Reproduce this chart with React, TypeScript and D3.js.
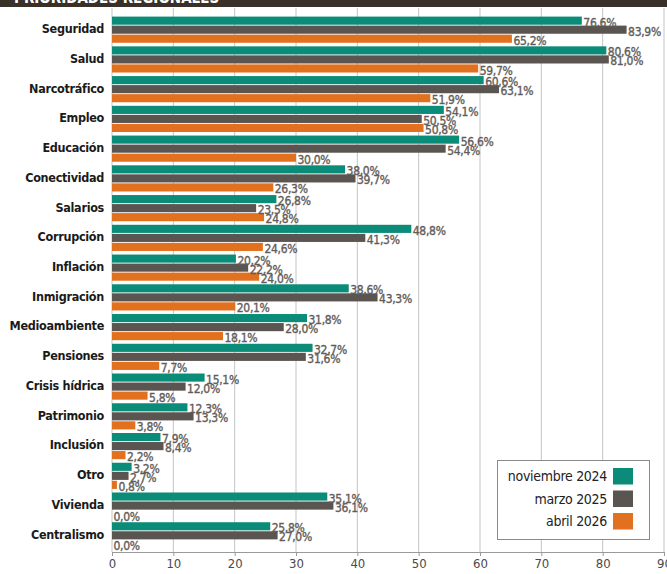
import { useEffect, useRef } from 'react';
import * as d3 from 'd3';

const categories = [
  'Seguridad', 'Salud', 'Narcotráfico', 'Empleo', 'Educación', 'Conectividad',
  'Salarios', 'Corrupción', 'Inflación', 'Inmigración', 'Medioambiente', 'Pensiones',
  'Crisis hídrica', 'Patrimonio', 'Inclusión', 'Otro', 'Vivienda', 'Centralismo',
];

const seriesNames = ['noviembre 2024', 'marzo 2025', 'abril 2026'];

const nov2024 = [76.6, 80.6, 60.6, 54.1, 56.6, 38.0, 26.8, 48.8, 20.2, 38.6, 31.8, 32.7, 15.1, 12.3, 7.9, 3.2, 35.1, 25.8];
const mar2025 = [83.9, 81.0, 63.1, 50.5, 54.4, 39.7, 23.5, 41.3, 22.2, 43.3, 28.0, 31.6, 12.0, 13.3, 8.4, 2.7, 36.1, 27.0];
const abr2026 = [65.2, 59.7, 51.9, 50.8, 30.0, 26.3, 24.8, 24.6, 24.0, 20.1, 18.1, 7.7, 5.8, 3.8, 2.2, 0.8, 0.0, 0.0];

const xTicks = [0, 10, 20, 30, 40, 50, 60, 70, 80, 90];

const colors = ['#0b8c79', '#5b5552', '#e2711f'];

const FONT = "'DejaVu Sans Condensed', 'Liberation Sans Narrow', 'Roboto', sans-serif";

export default function App() {
  const svgRef = useRef<SVGSVGElement | null>(null);

  useEffect(() => {
    if (!svgRef.current) return;
    document.body.style.margin = '0';

    const width = 667;
    const height = 574;
    const left = 112;
    const right = 664;
    const axisY = 552;

    const svg = d3.select(svgRef.current).attr('width', width).attr('height', height);
    svg.selectAll('*').remove();
    svg.style('font-family', FONT).style('background', '#fff').style('display', 'block');

    const x = d3.scaleLinear().domain([0, 90]).range([left, right]);
    const y0 = d3.scaleBand<string>().domain(categories).range([16, 549]).paddingInner(0.12).paddingOuter(0.02);
    const y1 = d3.scaleBand<number>().domain([0, 1, 2]).range([0, y0.bandwidth()]).paddingInner(0.1);

    // header band (title mostly cropped at the top)
    svg.append('rect').attr('x', 0).attr('y', 0).attr('width', width).attr('height', 7).attr('fill', '#3a302a');
    svg
      .append('text')
      .attr('x', 14)
      .attr('y', 3)
      .attr('fill', '#fff')
      .attr('font-weight', 'bold')
      .attr('font-size', 15)
      .text('PRIORIDADES REGIONALES');

    // gridlines
    svg
      .append('g')
      .selectAll('line')
      .data(xTicks)
      .join('line')
      .attr('x1', (d) => x(d))
      .attr('x2', (d) => x(d))
      .attr('y1', 8)
      .attr('y2', axisY)
      .attr('stroke', '#c4c4c4')
      .attr('stroke-width', 1);

    const rows = categories.map((c, i) => ({ c, vals: [nov2024[i], mar2025[i], abr2026[i]] }));

    const groups = svg
      .append('g')
      .selectAll('g')
      .data(rows)
      .join('g')
      .attr('transform', (d) => `translate(0,${y0(d.c)})`);

    groups
      .selectAll('rect')
      .data((d) => d.vals)
      .join('rect')
      .attr('x', x(0))
      .attr('y', (_, j) => y1(j)!)
      .attr('width', (v) => x(v) - x(0))
      .attr('height', y1.bandwidth())
      .attr('fill', (_, j) => colors[j]);

    const fmt = (v: number) => d3.format('.1f')(v).replace('.', ',') + '%';

    groups
      .selectAll('text.val')
      .data((d) => d.vals)
      .join('text')
      .attr('class', 'val')
      .attr('x', (v) => x(v) + 1.5)
      .attr('y', (_, j) => y1(j)! + y1.bandwidth() + 2)
      .attr('fill', '#625c59')
      .attr('stroke', '#625c59')
      .attr('stroke-width', 0.35)
      .attr('font-size', 12)
      .attr('letter-spacing', -0.3)
      .text((v) => fmt(v));

    groups
      .append('text')
      .attr('x', 104)
      .attr('y', y0.bandwidth() / 2 - 1)
      .attr('dy', '0.35em')
      .attr('text-anchor', 'end')
      .attr('font-weight', 'bold')
      .attr('font-size', 12.5)
      .attr('letter-spacing', -0.3)
      .attr('fill', '#1a1a1a')
      .text((d) => d.c);

    // x axis
    const axis = svg
      .append('g')
      .attr('transform', `translate(0,${axisY})`)
      .call(d3.axisBottom(x).tickValues(xTicks).tickSize(4).tickPadding(3).tickFormat(d3.format('d')) as any);
    axis.select('.domain').attr('stroke', '#9a9a9a');
    axis.selectAll('.tick line').attr('stroke', '#9a9a9a');
    axis
      .selectAll('.tick text')
      .attr('font-family', FONT)
      .attr('font-size', 13)
      .attr('fill', '#4a4a4a');

    // legend
    const legend = svg.append('g');
    legend
      .append('rect')
      .attr('x', 497.5)
      .attr('y', 460.5)
      .attr('width', 152)
      .attr('height', 79)
      .attr('fill', '#fff')
      .attr('stroke', '#8a8a8a')
      .attr('stroke-width', 1);
    const items = legend
      .selectAll('g')
      .data(seriesNames)
      .join('g')
      .attr('transform', (_, i) => `translate(0,${468 + i * 22.5})`);
    items
      .append('rect')
      .attr('x', 613)
      .attr('y', 0)
      .attr('width', 20)
      .attr('height', 16.5)
      .attr('fill', (_, i) => colors[i]);
    items
      .append('text')
      .attr('x', 607)
      .attr('y', 8)
      .attr('dy', '0.36em')
      .attr('text-anchor', 'end')
      .attr('font-size', 14)
      .attr('letter-spacing', -0.3)
      .attr('fill', '#222')
      .text((d) => d);
  }, []);

  return <svg ref={svgRef}></svg>;
}
